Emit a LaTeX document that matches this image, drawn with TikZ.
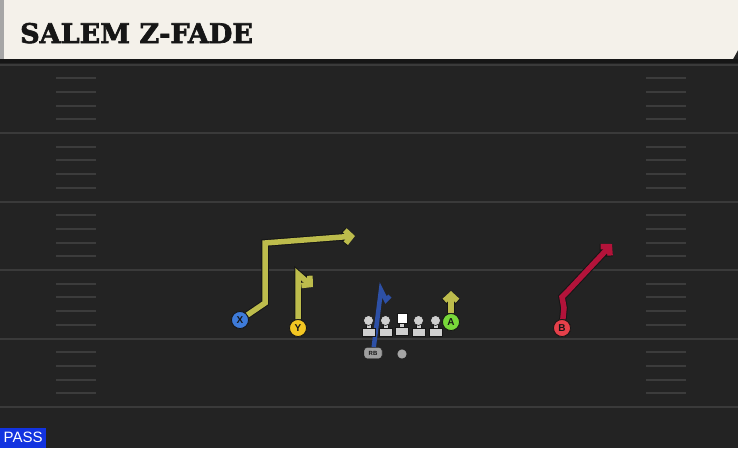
\documentclass[tikz,border=0pt]{standalone}
\usepackage{fontspec}
\usetikzlibrary{arrows.meta}
\newfontfamily\titlefont[BoldFeatures={FakeBold=2.5}]{DejaVu Serif}
\newfontfamily\labelfont{Liberation Sans}
\definecolor{field}{HTML}{232323}
\definecolor{yardline}{HTML}{3A3A3A}
\definecolor{hashmark}{HTML}{3C3C3C}
\definecolor{bar}{HTML}{F4F1EA}
\definecolor{outline}{HTML}{161616}
\definecolor{olive}{HTML}{BDBC4C}
\definecolor{rbblue}{HTML}{2D50A6}
\definecolor{crimson}{HTML}{B3133A}
\definecolor{xblue}{HTML}{3E7BD9}
\definecolor{yyellow}{HTML}{F3C622}
\definecolor{agreen}{HTML}{78D83A}
\definecolor{bred}{HTML}{E5404A}
\definecolor{lineman}{HTML}{CFCFCF}
\definecolor{passblue}{HTML}{1233E0}
\begin{document}
\begin{tikzpicture}[x=1pt,y=-1pt,
  player/.style={circle,draw=outline,line width=0.8pt,minimum size=17pt,inner sep=0pt,
    font=\labelfont\bfseries\fontsize{10}{10}\selectfont,text=outline},
  rbbox/.style={draw=outline,fill=gray!75,rounded corners=3pt,minimum width=18pt,minimum height=11pt,inner sep=0pt,
    font=\labelfont\bfseries\fontsize{6}{6}\selectfont,text=outline},
  route/.style={line width=5.5pt,line join=miter,preaction={draw=outline,line width=7.5pt}},
  tip/.style={-{Straight Barb[length=6pt,width=13pt]}},
  guard/.style={lineman,draw=outline,line width=0.6pt}]
\useasboundingbox (0,0) rectangle (738,448);
\fill [field] (0,0) rectangle (738,448);
\fill [bar] (0,0) -- (738,0) -- (738,50) -- (733,59) -- (0,59) -- cycle;
\fill [gray!70] (0,0) rectangle (4,59);
\fill [outline] (0,59) rectangle (738,63);
\node [anchor=base west,inner sep=0pt,font=\titlefont\bfseries\fontsize{27}{27}\selectfont,text=outline] (title) at (20,43) {SALEM Z-FADE};
\foreach \y in {64.5,133,201.5,270,338.5,407} \draw [yardline,line width=2pt] (0,\y) -- (738,\y);
\foreach \y in {64.5,133,201.5,270,338.5} {
  \foreach \k in {1,2,3,4} {
    \draw [hashmark,line width=2pt] (56,\y+13.7*\k) -- (96,\y+13.7*\k);
    \draw [hashmark,line width=2pt] (646,\y+13.7*\k) -- (686,\y+13.7*\k);
  }
}
\coordinate (xa) at (265,303);
\coordinate (xb) at (265,243);
\coordinate (xc) at (355,236);
\coordinate (ya) at (298,274);
\coordinate (yb) at (313,287);
\coordinate (ac) at (451,291);
\coordinate (ba) at (564,308);
\coordinate (bb) at (562,297);
\coordinate (bc) at (567,292);
\coordinate (bd) at (612,244);
\coordinate (ra) at (381,290);
\coordinate (rb) at (386,300);
\coordinate (rc) at (390,296);
\node [player,fill=xblue] (X) at (240,320) {X};
\node [player,fill=yyellow] (Y) at (298,328) {Y};
\node [player,fill=agreen] (A) at (451,322) {A};
\node [player,fill=bred] (B) at (562,328) {B};
\node [rbbox] (RB) at (373,353) {RB};
\node [circle,fill=gray!70,draw=outline,minimum size=10pt,inner sep=0pt] (ball) at (402,354) {};
\draw [route,olive,tip] (X) -- (xa) -- (xb) -- (xc);
\draw [route,olive,tip] (Y) -- (ya) -- (yb);
\draw [route,olive,tip] (A) -- (ac);
\draw [route,crimson,tip] (B) -- (ba) -- (bb) -- (bc) -- (bd);
\draw [rbblue,line width=4.5pt,line join=miter] (RB) -- (ra) -- (rb) -- (rc);
\node [player,fill=xblue] at (X) {X};
\node [player,fill=yyellow] at (Y) {Y};
\node [player,fill=agreen] at (A) {A};
\node [player,fill=bred] at (B) {B};
\node [rbbox] at (RB) {RB};
\fill [guard] (362,328.5) rectangle (375,336);
\fill [guard] (366,322) rectangle (371,328.5);
\fill [guard] (368.5,320.5) circle (5);
\fill [guard] (379,328.5) rectangle (392,336);
\fill [guard] (383,322) rectangle (388,328.5);
\fill [guard] (385.5,320.5) circle (5);
\fill [guard] (395.5,327.5) rectangle (408.5,335);
\fill [guard] (399.5,322) rectangle (404.5,327.5);
\fill [white,draw=outline,line width=0.6pt] (397,313) rectangle (407,323);
\fill [guard] (412,328.5) rectangle (425,336);
\fill [guard] (416,322) rectangle (421,328.5);
\fill [guard] (418.5,320.5) circle (5);
\fill [guard] (429,328.5) rectangle (442,336);
\fill [guard] (433,322) rectangle (438,328.5);
\fill [guard] (435.5,320.5) circle (5);
\node [fill=passblue,anchor=south west,minimum width=46pt,minimum height=20pt,inner sep=0pt,
  font=\labelfont\fontsize{15}{15}\selectfont,text=white] (play) at (0,448) {PASS};
\end{tikzpicture}
\end{document}
